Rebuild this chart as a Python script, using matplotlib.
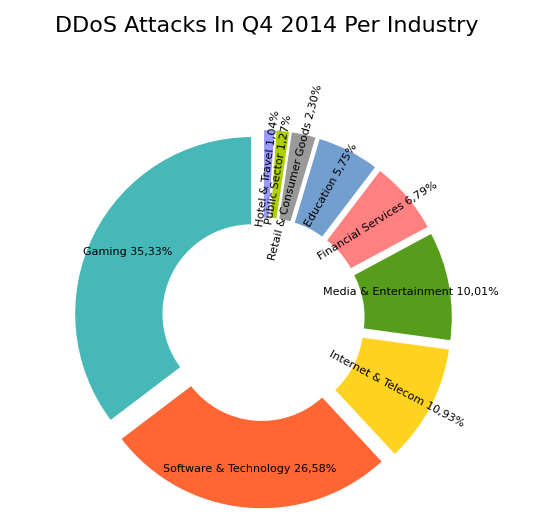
import numpy as np
import matplotlib.pyplot as plt

industries = ["Gaming", "Software & Technology", "Internet & Telecom", "Media & Entertainment",
              "Financial Services", "Education", "Retail & Consumer Goods", "Public Sector",
              "Hotel & Travel"]
shares = [35.33, 26.58, 10.93, 10.01, 6.79, 5.75, 2.30, 1.27, 1.04]
colors = ["#47B8B8", "#FF6633", "#FFD320", "#579D1C", "#FF8080", "#729FCF",
          "#999999", "#AECF00", "#9999FF"]
rotations = [0, 0, -28, 0, 32, 60, 75, 80, 82]

fig = plt.figure(figsize=(5.33, 5.32), dpi=100)
ax = fig.add_axes([0.0, 0.0, 1.0, 0.9])
explode = [0.07] * len(shares)
wedges, _ = ax.pie(shares, colors=colors, startangle=90, counterclock=True,
                   explode=explode, wedgeprops=dict(width=0.5, edgecolor="white", linewidth=1))
for w, name, val, rot in zip(wedges, industries, shares, rotations):
    ang = np.deg2rad((w.theta1 + w.theta2) / 2)
    x, y = 0.85 * np.cos(ang), 0.85 * np.sin(ang)
    ax.text(x, y, f"{name} {val:.2f}%".replace(".", ","), rotation=rot,
            ha="center", va="center", fontsize=8, rotation_mode="anchor")
ax.set_xlim(-1.33, 1.37)
ax.set_ylim(-1.2, 1.5)
ax.set_aspect("equal")
fig.suptitle("DDoS Attacks In Q4 2014 Per Industry", fontsize=16, y=0.97)
fig.savefig("out.png")
